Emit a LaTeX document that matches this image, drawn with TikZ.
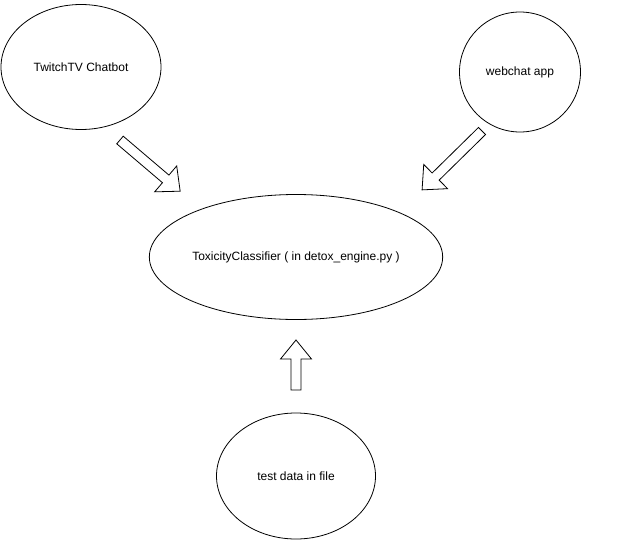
\documentclass[tikz,border=0pt]{standalone}
\usepackage{fontspec}
\setmainfont{Liberation Sans}
\usetikzlibrary{shapes.geometric}
\begin{document}
\begin{tikzpicture}[x=1pt,y=-1pt,
  bubble/.style={draw=black,line width=0.8pt,ellipse,inner sep=0pt,font=\fontsize{12}{14}\selectfont},
  arrowline/.style={draw=black,line width=0.8pt,line join=miter,fill=white}]
\useasboundingbox (0,0) rectangle (621,541);
\node[bubble,minimum width=160pt,minimum height=125pt] (twitch) at (81,67) {TwitchTV Chatbot};
\node[bubble,minimum width=121pt,minimum height=120pt] (web) at (520,72) {webchat app};
\node[bubble,minimum width=291pt,minimum height=125pt] (tox) at (296,257) {ToxicityClassifier ( in detox\_engine.py )};
\node[bubble,minimum width=159pt,minimum height=126pt] (test) at (296,476) {test data in file};
\newcommand\blockarrow[4]{%
  \begin{scope}[shift={#1},rotate=#2]
    \draw[arrowline] (0,-5) -- ({#3-19},-5) -- ({#3-19},-#4) -- (#3,0) -- ({#3-19},#4) -- ({#3-19},5) -- (0,5) -- cycle;
  \end{scope}}
\blockarrow{(120,140)}{-40.4}{79}{17}
\blockarrow{(482,131)}{-135.5}{84}{17}
\blockarrow{(296,390)}{90}{50}{15.5}
\end{tikzpicture}
\end{document}
